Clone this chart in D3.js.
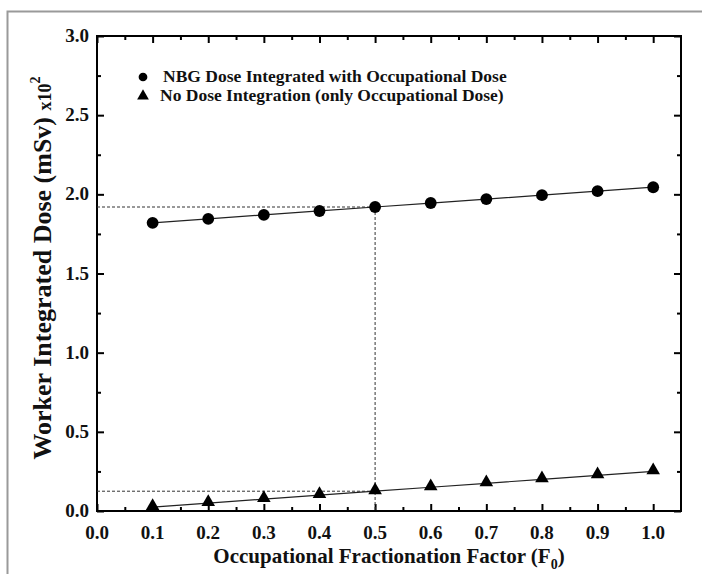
<!DOCTYPE html>
<html>
<head>
<meta charset="utf-8">
<script src="https://cdn.jsdelivr.net/npm/d3@7"></script>
<style>
  body { margin: 0; background: #fff; }
  text { font-family: "Liberation Serif", "Times New Roman", serif; font-weight: bold; fill: #111; }
</style>
</head>
<body>
<svg id="chart" width="702" height="574"></svg>
<script>
// data
var fractions = [0.1, 0.2, 0.3, 0.4, 0.5, 0.6, 0.7, 0.8, 0.9, 1.0];
var nbgDose = [1.82, 1.845, 1.87, 1.895, 1.92, 1.945, 1.97, 1.995, 2.02, 2.045];
var occDose = [0.025, 0.05, 0.075, 0.10, 0.125, 0.15, 0.175, 0.20, 0.225, 0.25];
var xTicks = [0.0, 0.1, 0.2, 0.3, 0.4, 0.5, 0.6, 0.7, 0.8, 0.9, 1.0];
var yTicks = [0.0, 0.5, 1.0, 1.5, 2.0, 2.5, 3.0];
var legendLabels = ["NBG Dose Integrated with Occupational Dose", "No Dose Integration (only Occupational Dose)"];
var markFraction = 0.5;

var svg = d3.select("#chart");

// outer grey frame (cut off at right/bottom in the original)
svg.append("rect")
    .attr("x", 7.5).attr("y", 11.5)
    .attr("width", 720).attr("height", 600)
    .attr("fill", "none")
    .attr("stroke", "#9a9a9a")
    .attr("stroke-width", 2);

var pLeft = 97, pRight = 681, pTop = 36, pBottom = 511;

var x = d3.scaleLinear().domain([0, 1.05]).range([pLeft, pRight]);
var y = d3.scaleLinear().domain([0, 3.0]).range([pBottom, pTop]);

// minor ticks
var xMinor = d3.range(0.05, 1.05, 0.1);
var yMinor = d3.range(0.25, 3.0, 0.5);

function tickAxis(axis, len, ticks) {
  return axis.tickValues(ticks).tickSizeInner(len).tickSizeOuter(0).tickFormat("");
}

// bottom / top / left / right, ticks pointing inward
svg.append("g").attr("transform", "translate(0," + pBottom + ")")
    .call(tickAxis(d3.axisTop(x), 7, xTicks));
svg.append("g").attr("transform", "translate(0," + pBottom + ")")
    .call(tickAxis(d3.axisTop(x), 4, xMinor));
svg.append("g").attr("transform", "translate(0," + pTop + ")")
    .call(tickAxis(d3.axisBottom(x), 7, xTicks));
svg.append("g").attr("transform", "translate(0," + pTop + ")")
    .call(tickAxis(d3.axisBottom(x), 4, xMinor));
svg.append("g").attr("transform", "translate(" + pLeft + ",0)")
    .call(tickAxis(d3.axisRight(y), 7, yTicks));
svg.append("g").attr("transform", "translate(" + pLeft + ",0)")
    .call(tickAxis(d3.axisRight(y), 4, yMinor));
svg.append("g").attr("transform", "translate(" + pRight + ",0)")
    .call(tickAxis(d3.axisLeft(y), 7, yTicks));
svg.append("g").attr("transform", "translate(" + pRight + ",0)")
    .call(tickAxis(d3.axisLeft(y), 4, yMinor));

svg.selectAll(".domain").remove();
svg.selectAll(".tick line").attr("stroke", "#000").attr("stroke-width", 2);

// plot box
svg.append("rect")
    .attr("x", pLeft).attr("y", pTop)
    .attr("width", pRight - pLeft).attr("height", pBottom - pTop)
    .attr("fill", "none")
    .attr("stroke", "#000")
    .attr("stroke-width", 2);

// tick labels
svg.selectAll(".xlab").data(xTicks).enter().append("text")
    .attr("x", d => x(d))
    .attr("y", pBottom + 28)
    .attr("text-anchor", "middle")
    .attr("font-size", 19)
    .text(d => d.toFixed(1));

svg.selectAll(".ylab").data(yTicks).enter().append("text")
    .attr("x", pLeft - 8)
    .attr("y", d => y(d) + 6)
    .attr("text-anchor", "end")
    .attr("font-size", 19)
    .text(d => d.toFixed(1));

// axis titles
var xt = svg.append("text")
    .attr("x", 389).attr("y", 563)
    .attr("text-anchor", "middle")
    .attr("font-size", 21)
    .text("Occupational Fractionation Factor (F");
xt.append("tspan").attr("font-size", 14).attr("dy", 6).text("0");
xt.append("tspan").attr("dy", -6).text(")");

var yt = svg.append("text")
    .attr("transform", "translate(51,268) rotate(-90)")
    .attr("text-anchor", "middle")
    .attr("font-size", 26)
    .text("Worker Integrated Dose (mSv) ");
yt.append("tspan").attr("font-size", 18).text("x10");
yt.append("tspan").attr("font-size", 14).attr("dy", -11).text("2");

// dashed guide lines at the marked fraction
var i5 = fractions.indexOf(markFraction);
var guide = svg.append("g")
    .attr("stroke", "#333")
    .attr("stroke-width", 1)
    .attr("stroke-dasharray", "3,2")
    .attr("fill", "none");
guide.append("line")
    .attr("x1", x(0)).attr("x2", x(markFraction))
    .attr("y1", y(nbgDose[i5])).attr("y2", y(nbgDose[i5]));
guide.append("line")
    .attr("x1", x(0)).attr("x2", x(markFraction))
    .attr("y1", y(occDose[i5])).attr("y2", y(occDose[i5]));
guide.append("line")
    .attr("x1", x(markFraction)).attr("x2", x(markFraction))
    .attr("y1", y(nbgDose[i5])).attr("y2", y(0));

// fit lines
var line = d3.line().x(d => x(d[0])).y(d => y(d[1]));
[nbgDose, occDose].forEach(function(vals) {
  svg.append("path")
      .datum(d3.zip(fractions, vals))
      .attr("d", line)
      .attr("fill", "none")
      .attr("stroke", "#222")
      .attr("stroke-width", 1.2);
});

// markers
var circ = d3.symbol().type(d3.symbolCircle).size(110);
var tri = d3.symbol().type(d3.symbolTriangle).size(80);

svg.selectAll(".nbg").data(d3.zip(fractions, nbgDose)).enter().append("path")
    .attr("d", circ)
    .attr("transform", d => "translate(" + x(d[0]) + "," + y(d[1]) + ")")
    .attr("fill", "#000");

svg.selectAll(".occ").data(d3.zip(fractions, occDose)).enter().append("path")
    .attr("d", tri)
    .attr("transform", d => "translate(" + x(d[0]) + "," + (y(d[1]) - 1) + ")")
    .attr("fill", "#000");

// legend
var legend = svg.append("g");
legend.append("path").attr("d", d3.symbol().type(d3.symbolCircle).size(60))
    .attr("transform", "translate(143,77)").attr("fill", "#000");
legend.append("path").attr("d", d3.symbol().type(d3.symbolTriangle).size(60))
    .attr("transform", "translate(143,96)").attr("fill", "#000");
legend.selectAll(".lt").data(legendLabels).enter().append("text")
    .attr("x", (d, i) => i === 0 ? 163 : 160)
    .attr("y", (d, i) => 82 + i * 19)
    .attr("font-size", 17.5)
    .text(d => d);
</script>
</body>
</html>
